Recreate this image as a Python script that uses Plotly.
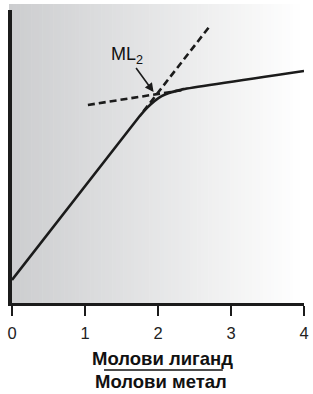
import plotly.graph_objects as go

# ---- data ----
curve_x = [0.0, 1.75, 1.85, 1.95, 2.05, 2.15, 2.25, 2.35, 4.0]
curve_y = [7.85, 63.8, 66.6, 68.9, 70.6, 71.7, 72.4, 73.0, 79.2]

steep_x = [1.80, 2.70]          # extension of initial slope (dashed)
steep_y = [65.4, 94.2]

flat_x = [1.04, 2.32]           # extension of final slope (dashed)
flat_y = [67.6, 72.6]

ml2_point = (1.94, 72.0)        # intersection marked by the arrow
ml2_label = "ML<sub>2</sub>"

x_ticks = [0, 1, 2, 3, 4]
x_tick_labels = ["0", "1", "2", "3", "4"]
title_num = "Молови лиганд"
title_den = "Молови метал"

# ---- figure ----
W, H = 313, 394
ml, mr, mt, mb = 7, 8, 4, 88
pw, ph = W - ml - mr, H - mt - mb

def px2paper_x(px):
    return (px - ml) / pw

def px2paper_y(py):
    return (H - mb - py) / ph

fig = go.Figure()

ink = "#1b1b1b"
fig.add_trace(go.Scatter(x=steep_x, y=steep_y, mode="lines",
                         line=dict(color=ink, width=2.6, dash="7px,4px"),
                         hoverinfo="skip", showlegend=False))
fig.add_trace(go.Scatter(x=flat_x, y=flat_y, mode="lines",
                         line=dict(color=ink, width=2.6, dash="7px,4px"),
                         hoverinfo="skip", showlegend=False))
fig.add_trace(go.Scatter(x=curve_x, y=curve_y, mode="lines",
                         line=dict(color=ink, width=2.6, shape="spline", smoothing=0.4),
                         hoverinfo="skip", showlegend=False))

# background gradient (grey on the left to white on the right)
shapes = []
n = 80
c0, c1 = (204, 205, 207), (255, 255, 255)
for i in range(n):
    t = i / (n - 1)
    c = tuple(int(round(a + (b - a) * t)) for a, b in zip(c0, c1))
    shapes.append(dict(type="rect", xref="paper", yref="paper",
                       x0=i / n, x1=(i + 1) / n + 0.002, y0=0, y1=1,
                       fillcolor="rgb(%d,%d,%d)" % c, line=dict(width=0),
                       layer="below"))
# fraction bar of the x-axis title
shapes.append(dict(type="line", xref="paper", yref="paper",
                   x0=px2paper_x(103), x1=px2paper_x(223),
                   y0=px2paper_y(370), y1=px2paper_y(370),
                   line=dict(color="#111111", width=1.5)))

font_family = "Liberation Sans, Arial, sans-serif"

annotations = [
    dict(x=ml2_point[0], y=ml2_point[1], xref="x", yref="y",
         text=ml2_label, showarrow=True, ax=-27, ay=-37,
         arrowhead=2, arrowsize=1.1, arrowwidth=1.6, arrowcolor=ink,
         font=dict(family=font_family, size=18, color="#111111")),
    dict(x=px2paper_x(162), y=px2paper_y(358), xref="paper", yref="paper",
         text="<b>%s</b>" % title_num, showarrow=False,
         xanchor="center", yanchor="middle",
         font=dict(family=font_family, size=18.5, color="#111111")),
    dict(x=px2paper_x(161), y=px2paper_y(381.5), xref="paper", yref="paper",
         text="<b>%s</b>" % title_den, showarrow=False,
         xanchor="center", yanchor="middle",
         font=dict(family=font_family, size=18.5, color="#111111")),
]

fig.update_layout(
    width=W, height=H,
    margin=dict(l=ml, r=mr, t=mt, b=mb, pad=0),
    paper_bgcolor="white",
    plot_bgcolor="rgba(0,0,0,0)",
    shapes=shapes,
    annotations=annotations,
    showlegend=False,
    font=dict(family=font_family, color="#111111"),
    xaxis=dict(range=[0, 4], domain=[px2paper_x(10), 1.0],
               tickvals=x_ticks, ticktext=x_tick_labels,
               ticks="outside", ticklen=10, tickwidth=1.5, tickcolor=ink,
               showline=True, linecolor=ink, linewidth=3,
               showgrid=False, zeroline=False,
               ticklabelstandoff=3,
               tickfont=dict(family=font_family, size=16.5, color="#222222")),
    yaxis=dict(range=[0, 100], domain=[px2paper_y(303), px2paper_y(10)],
               showticklabels=False, ticks="",
               showline=True, linecolor=ink, linewidth=4,
               showgrid=False, zeroline=False),
)

fig.write_html("out.html")
